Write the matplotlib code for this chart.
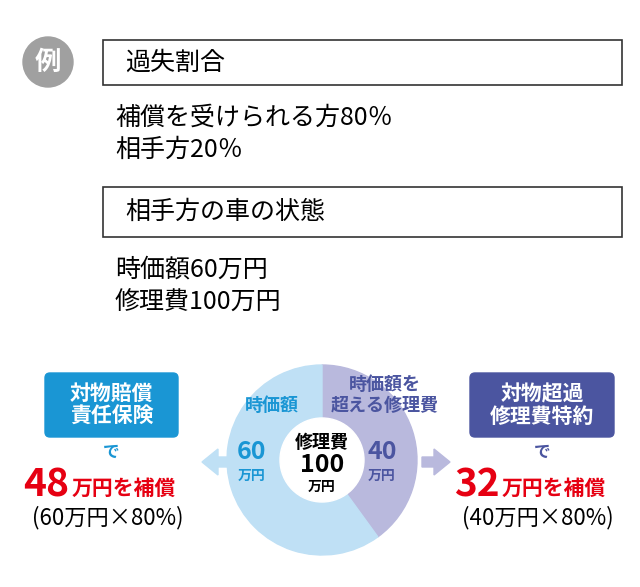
import numpy as np
import matplotlib.pyplot as plt
from matplotlib.patches import Wedge, Circle, Rectangle, FancyBboxPatch, FancyArrow

plt.rcParams['font.family'] = 'Noto Sans CJK JP'

# データ
shares = [60, 40]          # 時価額 / 時価額を超える修理費 (万円)
share_colors = ['#bfe0f5', '#b9b9dd']
total = 100
ratio = 80
left_pay = 48
right_pay = 32

fig = plt.figure(figsize=(6.4, 5.87), dpi=100)
ax = fig.add_axes([0, 0, 1, 1])
ax.set_xlim(0, 640)
ax.set_ylim(587, 0)
ax.set_aspect('equal')
ax.axis('off')

# 上部の説明
ax.add_patch(Circle((48, 62), 25, color='#a0a0a0'))
ax.text(48, 62, '例', color='white', fontsize=19, ha='center', va='center', weight='bold')
ax.add_patch(Rectangle((103, 40), 519, 45, fill=False, ec='#333', lw=1.2))
ax.text(125, 63, '過失割合', fontsize=18, va='center')
ax.text(115, 118, f'補償を受けられる方{ratio}％', fontsize=18, va='center')
ax.text(115, 150, f'相手方{100 - ratio}％', fontsize=18, va='center')
ax.add_patch(Rectangle((103, 187), 519, 50, fill=False, ec='#333', lw=1.2))
ax.text(125, 212, '相手方の車の状態', fontsize=18, va='center')
ax.text(115, 270, f'時価額{shares[0]}万円', fontsize=18, va='center')
ax.text(115, 302, f'修理費{total}万円', fontsize=18, va='center')

# ドーナツ
cx, cy, r_out, r_in = 322, 460, 95, 42
ang = 90
for s, c in zip(shares[::-1], share_colors[::-1]):
    sweep = 360 * s / total
    ax.add_patch(Wedge((cx, cy), r_out, -ang, -ang + sweep, width=r_out - r_in, color=c))
    ang -= sweep
ax.add_patch(Circle((cx, cy), r_in, color='white'))
ax.text(cx, cy - 18, '修理費', fontsize=13, ha='center', va='center', weight='bold')
ax.text(cx, cy + 5, f'{total}', fontsize=18, ha='center', va='center', weight='bold')
ax.text(cx, cy + 27, '万円', fontsize=10, ha='center', va='center', weight='bold')
ax.text(252, 452, f'{shares[0]}', fontsize=18, ha='center', va='center', color='#1a96d4', weight='bold')
ax.text(252, 476, '万円', fontsize=10, ha='center', va='center', color='#1a96d4', weight='bold')
ax.text(382, 452, f'{shares[1]}', fontsize=18, ha='center', va='center', color='#4b55a0', weight='bold')
ax.text(382, 476, '万円', fontsize=10, ha='center', va='center', color='#4b55a0', weight='bold')
ax.text(272, 405, '時価額', fontsize=13, ha='center', va='center', color='#1a96d4', weight='bold')
ax.text(385, 395, '時価額を\n超える修理費', fontsize=13, ha='center', va='center',
        color='#4b55a0', weight='bold', linespacing=1.1)

# 矢印
ax.add_patch(FancyArrow(228, 462, -26, 0, width=10, head_width=26, head_length=16,
                        color='#bfe0f5', length_includes_head=True))
ax.add_patch(FancyArrow(422, 462, 28, 0, width=10, head_width=26, head_length=16,
                        color='#b9b9dd', length_includes_head=True))

# 左右の保険
for x0, w, col, name, pay, base in [(45, 133, '#1a96d4', '対物賠償\n責任保険', left_pay, shares[0]),
                                    (470, 144, '#4b55a0', '対物超過\n修理費特約', right_pay, shares[1])]:
    xc = x0 + w / 2
    ax.add_patch(FancyBboxPatch((x0, 373), w, 64, boxstyle='round,pad=0,rounding_size=5', color=col))
    ax.text(xc, 405, name, fontsize=15, ha='center', va='center', color='white',
            weight='bold', linespacing=1.1)
    ax.text(xc, 452, 'で', fontsize=12, ha='center', va='center', color=col, weight='bold')
    ax.text(xc - 42, 485, f'{pay}', fontsize=28, ha='right', va='center', color='#e60012', weight='bold')
    ax.text(xc - 40, 488, '万円を補償', fontsize=15, ha='left', va='center', color='#e60012', weight='bold')
    ax.text(xc - 4, 518, f'({base}万円×{ratio}%)', fontsize=16, ha='center', va='center')

fig.savefig('out.png', dpi=100)
